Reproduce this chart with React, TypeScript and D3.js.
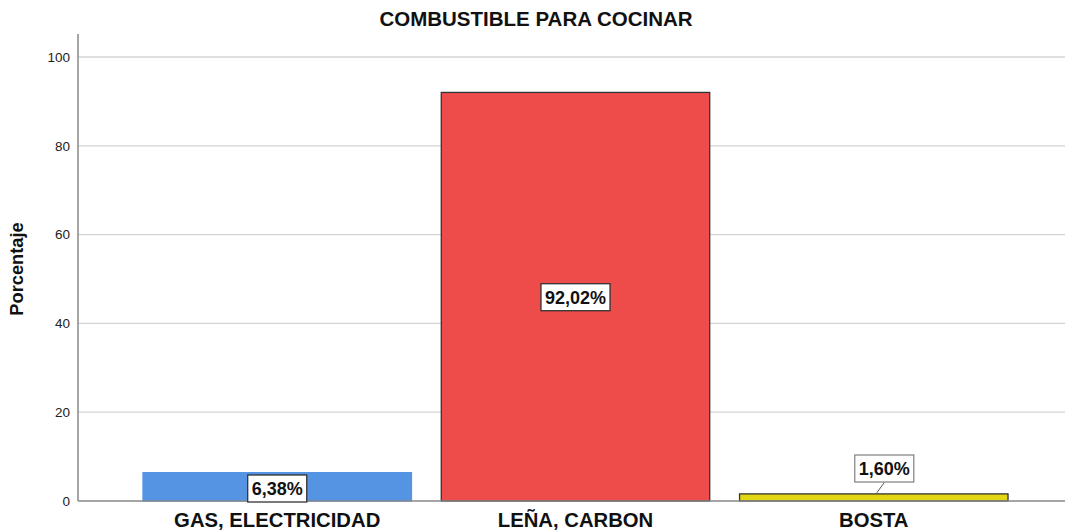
import React from "react";
import * as d3 from "d3";

const categories = ["GAS, ELECTRICIDAD", "LEÑA, CARBON", "BOSTA"];
const values = [6.38, 92.02, 1.6];
const labels = ["6,38%", "92,02%", "1,60%"];
const colors = ["#5594E3", "#EE4B4B", "#E2D612"];
const yTicks = [0, 20, 40, 60, 80, 100];

const W = 1065;
const H = 532;
const axisX = 78;
const plotRight = 1065;

export default function App() {
  const y = d3.scaleLinear().domain([0, 100]).range([501, 57]);
  const x = d3.scaleBand<string>().domain(categories).range([143, 1008]).paddingInner(0.1).paddingOuter(0);
  const bw = x.bandwidth();
  const font = "Arial, 'Liberation Sans', sans-serif";
  const charW = (s: string) =>
    s.split("").reduce((a, ch) => a + (ch === "," ? 0.278 : ch === "%" ? 0.889 : 0.556), 0);
  return (
    <svg width={W} height={H} style={{ position: "absolute", left: 0, top: 0, fontFamily: font }}>
      <rect width={W} height={H} fill="#fff" />
      <text x={536} y={26} textAnchor="middle" fontWeight="bold" fontSize={20.5} fill="#111">COMBUSTIBLE PARA COCINAR</text>
      {yTicks.map((t) => (
        <g key={t}>
          {t > 0 && <line x1={axisX} x2={plotRight} y1={y(t)} y2={y(t)} stroke="#d4d4d4" strokeWidth={1.3} />}
          <text x={70} y={y(t)} dy="0.35em" textAnchor="end" fontSize={13.5} fill="#222">{t}</text>
        </g>
      ))}
      <text transform={`translate(23,${269}) rotate(-90)`} textAnchor="middle" fontWeight="bold" fontSize={18.3} fill="#111">Porcentaje</text>
      {categories.map((c, i) => {
        const x0 = x(c)!;
        return (
          <rect key={c} x={x0} y={y(values[i])} width={bw} height={y(0) - y(values[i])} fill={colors[i]}
            stroke={i === 0 ? colors[i] : "#333"} strokeWidth={1.3} />
        );
      })}
      <line x1={axisX} x2={axisX} y1={34} y2={501} stroke="#888" strokeWidth={1.5} />
      <line x1={axisX} x2={plotRight} y1={501} y2={501} stroke="#888" strokeWidth={1.5} />
      {categories.map((c) => (
        <text key={c} x={x(c)! + bw / 2} y={527} textAnchor="middle" fontWeight="bold" fontSize={20.3} fill="#111">{c}</text>
      ))}
      {categories.map((c, i) => {
        const cx = x(c)! + bw / 2;
        let bx = cx, by;
        if (i === 0) by = 488.5;
        else if (i === 1) by = y(values[i] / 2) + 0.5;
        else { bx = cx + 10.5; by = 468.5; }
        const fs = 18;
        const w = charW(labels[i]) * fs + 8;
        return (
          <g key={"l" + c}>
            {i === 2 && <line x1={cx + 3} y1={y(values[i]) - 1} x2={bx} y2={by + 14} stroke="#555" strokeWidth={1} />}
            <rect x={bx - w / 2} y={by - 13.5} width={w} height={27} fill="#fff" stroke={i === 2 ? "#888" : "#333"} strokeWidth={1.3} />
            <text x={bx} y={by} dy="0.36em" textAnchor="middle" fontWeight="bold" fontSize={fs} fill="#111">{labels[i]}</text>
          </g>
        );
      })}
    </svg>
  );
}
